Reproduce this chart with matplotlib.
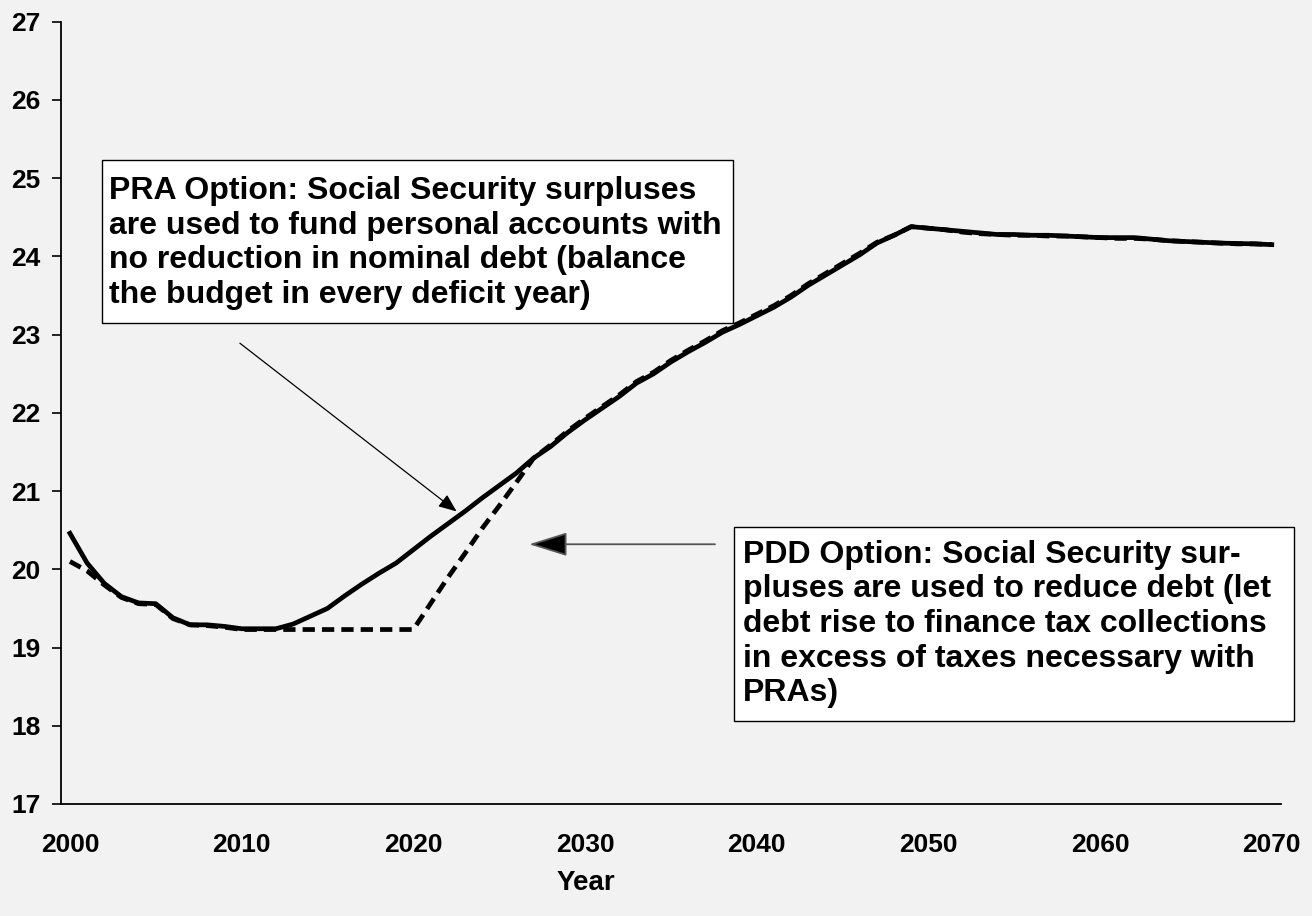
import matplotlib.pyplot as plt
from matplotlib.patches import Rectangle
import numpy as np

plt.rcParams['font.family'] = ['Liberation Sans', 'DejaVu Sans']
plt.rcParams['font.weight'] = 'bold'

years = list(range(2000, 2071))

# PRA option (solid line)
pra = [20.46, 20.08, 19.82, 19.65, 19.57, 19.56, 19.38, 19.29, 19.29, 19.27,
       19.24, 19.24, 19.24, 19.30, 19.40, 19.50, 19.66, 19.81, 19.95, 20.08,
       20.25, 20.42, 20.58, 20.74, 20.91, 21.07, 21.23, 21.42, 21.57, 21.75,
       21.91, 22.06, 22.21, 22.38, 22.50, 22.65, 22.78, 22.90, 23.03, 23.13,
       23.24, 23.35, 23.48, 23.63, 23.76, 23.89, 24.02, 24.17, 24.27, 24.38,
       24.36, 24.34, 24.32, 24.30, 24.28, 24.28, 24.27, 24.27, 24.26, 24.25,
       24.24, 24.24, 24.24, 24.22, 24.20, 24.19, 24.18, 24.17, 24.165, 24.16,
       24.15]

# PDD option (dashed line)
pdd = [20.10, 19.98, 19.80, 19.64, 19.56, 19.55, 19.37, 19.29, 19.28, 19.26,
       19.23, 19.23, 19.23, 19.23, 19.23, 19.23, 19.23, 19.23, 19.23, 19.23,
       19.23, 19.56, 19.89, 20.20, 20.52, 20.81, 21.11, 21.42, 21.59, 21.77,
       21.93, 22.08, 22.23, 22.40, 22.52, 22.67, 22.80, 22.92, 23.05, 23.15,
       23.26, 23.37, 23.50, 23.65, 23.78, 23.91, 24.04, 24.18, 24.27, 24.38,
       24.36, 24.34, 24.31, 24.29, 24.28, 24.27, 24.27, 24.26, 24.26, 24.25,
       24.24, 24.23, 24.23, 24.22, 24.20, 24.19, 24.18, 24.17, 24.16, 24.16,
       24.15]

xtick_years = [2000, 2010, 2020, 2030, 2040, 2050, 2060, 2070]
ytick_vals = list(range(17, 28))

pra_text = ("PRA Option: Social Security surpluses\n"
            "are used to fund personal accounts with\n"
            "no reduction in nominal debt (balance\n"
            "the budget in every deficit year)")
pdd_text = ("PDD Option: Social Security sur-\n"
            "pluses are used to reduce debt (let\n"
            "debt rise to finance tax collections\n"
            "in excess of taxes necessary with\n"
            "PRAs)")

bg = '#f2f2f2'
fig = plt.figure(figsize=(13.12, 9.16), dpi=100, facecolor=bg)
ax = fig.add_axes([0.0465, 0.1223, 0.9299, 0.854], facecolor=bg)

ax.plot(years, pdd, color='black', lw=3.4, dashes=(2.6, 1.5), solid_capstyle='butt', zorder=3)
ax.plot(years, pra, color='black', lw=3.4, zorder=4)

ax.set_xlim(1999.48, 2070.54)
ax.set_ylim(17, 27)
ax.set_xticks(xtick_years)
ax.set_yticks(ytick_vals)
ax.tick_params(axis='x', length=0, pad=21, labelsize=19)
ax.tick_params(axis='y', length=6.5, width=1.2, pad=8, labelsize=19)
for s in ['top', 'right']:
    ax.spines[s].set_visible(False)
for s in ['left', 'bottom']:
    ax.spines[s].set_linewidth(1.3)

fig.text(0.4466, 0.0365, 'Year', ha='center', va='center', fontsize=20, fontweight='bold')

# annotation boxes
ax.add_patch(Rectangle((2001.86, 23.15), 36.75, 2.08, facecolor='white', edgecolor='black',
                       lw=1.0, zorder=5, clip_on=False))
ax.text(2002.25, 24.17, pra_text, ha='left', va='center', fontsize=23, fontweight='bold',
        linespacing=1.2, zorder=6)
ax.add_patch(Rectangle((2038.70, 18.06), 32.62, 2.48, facecolor='white', edgecolor='black',
                       lw=1.0, zorder=5, clip_on=False))
ax.text(2039.2, 19.30, pdd_text, ha='left', va='center', fontsize=23, fontweight='bold',
        linespacing=1.2, zorder=6, clip_on=False)

# arrows
ax.annotate('', xy=(2022.52, 20.74), xytext=(2009.9, 22.89),
            arrowprops=dict(arrowstyle='-|>,head_length=1.1,head_width=0.45', color='black',
                            lw=0.9, shrinkA=0, shrinkB=0), zorder=7)
ax.annotate('', xy=(2026.75, 20.32), xytext=(2037.57, 20.32),
            arrowprops=dict(arrowstyle='-|>,head_length=2.4,head_width=0.75', color='black',
                            ec='#555555', fc='black', lw=1.3, shrinkA=0, shrinkB=0), zorder=7)

fig.savefig('out.png', dpi=100, facecolor=bg)
